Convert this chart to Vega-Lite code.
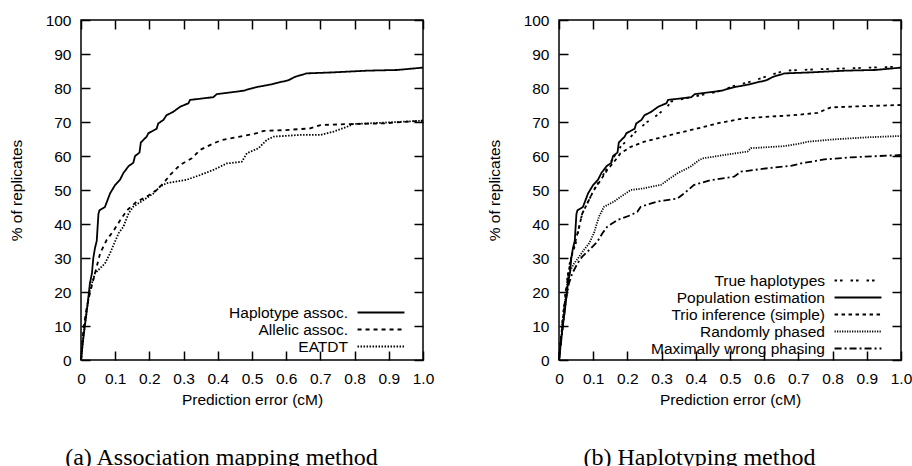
{
  "$schema": "https://vega.github.io/schema/vega-lite/v6.json",
  "padding": {"left": 8, "top": 12, "right": 0, "bottom": 0},
  "background": "white",
  "datasets": {
    "a": [
      {"s":"Haplotype assoc.","x":0,"y":0},{"s":"Haplotype assoc.","x":0.005,"y":5},{"s":"Haplotype assoc.","x":0.01,"y":9},{"s":"Haplotype assoc.","x":0.015,"y":13},{"s":"Haplotype assoc.","x":0.02,"y":17},{"s":"Haplotype assoc.","x":0.026,"y":22.5},{"s":"Haplotype assoc.","x":0.032,"y":25.5},{"s":"Haplotype assoc.","x":0.036,"y":30},{"s":"Haplotype assoc.","x":0.041,"y":33},{"s":"Haplotype assoc.","x":0.046,"y":35},{"s":"Haplotype assoc.","x":0.051,"y":43},{"s":"Haplotype assoc.","x":0.054,"y":44},{"s":"Haplotype assoc.","x":0.07,"y":45},{"s":"Haplotype assoc.","x":0.085,"y":49},{"s":"Haplotype assoc.","x":0.1,"y":51.5},{"s":"Haplotype assoc.","x":0.114,"y":53},{"s":"Haplotype assoc.","x":0.124,"y":55},{"s":"Haplotype assoc.","x":0.139,"y":57},{"s":"Haplotype assoc.","x":0.153,"y":58},{"s":"Haplotype assoc.","x":0.158,"y":60},{"s":"Haplotype assoc.","x":0.171,"y":61},{"s":"Haplotype assoc.","x":0.175,"y":64},{"s":"Haplotype assoc.","x":0.192,"y":65.7},{"s":"Haplotype assoc.","x":0.197,"y":66.7},{"s":"Haplotype assoc.","x":0.221,"y":68},{"s":"Haplotype assoc.","x":0.226,"y":69.6},{"s":"Haplotype assoc.","x":0.241,"y":70.6},{"s":"Haplotype assoc.","x":0.25,"y":72},{"s":"Haplotype assoc.","x":0.27,"y":73},{"s":"Haplotype assoc.","x":0.29,"y":74.5},{"s":"Haplotype assoc.","x":0.314,"y":75.5},{"s":"Haplotype assoc.","x":0.319,"y":76.5},{"s":"Haplotype assoc.","x":0.387,"y":77.3},{"s":"Haplotype assoc.","x":0.397,"y":78.2},{"s":"Haplotype assoc.","x":0.475,"y":79.2},{"s":"Haplotype assoc.","x":0.51,"y":80.2},{"s":"Haplotype assoc.","x":0.553,"y":81},{"s":"Haplotype assoc.","x":0.607,"y":82.3},{"s":"Haplotype assoc.","x":0.626,"y":83.3},{"s":"Haplotype assoc.","x":0.66,"y":84.3},{"s":"Haplotype assoc.","x":0.739,"y":84.6},{"s":"Haplotype assoc.","x":0.836,"y":85.1},{"s":"Haplotype assoc.","x":0.924,"y":85.3},{"s":"Haplotype assoc.","x":1.0,"y":86},
      {"s":"Allelic assoc.","x":0,"y":0},{"s":"Allelic assoc.","x":0.007,"y":9},{"s":"Allelic assoc.","x":0.017,"y":15.7},{"s":"Allelic assoc.","x":0.026,"y":19.6},{"s":"Allelic assoc.","x":0.041,"y":25.5},{"s":"Allelic assoc.","x":0.056,"y":31.4},{"s":"Allelic assoc.","x":0.075,"y":35.3},{"s":"Allelic assoc.","x":0.095,"y":38},{"s":"Allelic assoc.","x":0.114,"y":41},{"s":"Allelic assoc.","x":0.134,"y":44},{"s":"Allelic assoc.","x":0.163,"y":46.6},{"s":"Allelic assoc.","x":0.192,"y":48},{"s":"Allelic assoc.","x":0.221,"y":50},{"s":"Allelic assoc.","x":0.241,"y":52},{"s":"Allelic assoc.","x":0.26,"y":54.4},{"s":"Allelic assoc.","x":0.29,"y":57.4},{"s":"Allelic assoc.","x":0.324,"y":59.3},{"s":"Allelic assoc.","x":0.348,"y":61.8},{"s":"Allelic assoc.","x":0.387,"y":63.7},{"s":"Allelic assoc.","x":0.412,"y":64.7},{"s":"Allelic assoc.","x":0.465,"y":65.7},{"s":"Allelic assoc.","x":0.514,"y":66.7},{"s":"Allelic assoc.","x":0.534,"y":67.4},{"s":"Allelic assoc.","x":0.592,"y":67.6},{"s":"Allelic assoc.","x":0.67,"y":68.1},{"s":"Allelic assoc.","x":0.7,"y":69.1},{"s":"Allelic assoc.","x":0.787,"y":69.4},{"s":"Allelic assoc.","x":0.885,"y":69.6},{"s":"Allelic assoc.","x":1.0,"y":70.4},
      {"s":"EATDT","x":0,"y":0},{"s":"EATDT","x":0.007,"y":6.9},{"s":"EATDT","x":0.017,"y":14.7},{"s":"EATDT","x":0.026,"y":20.6},{"s":"EATDT","x":0.041,"y":25.5},{"s":"EATDT","x":0.056,"y":27},{"s":"EATDT","x":0.07,"y":28.4},{"s":"EATDT","x":0.085,"y":31.4},{"s":"EATDT","x":0.095,"y":33.8},{"s":"EATDT","x":0.11,"y":37.3},{"s":"EATDT","x":0.124,"y":39.2},{"s":"EATDT","x":0.139,"y":43.1},{"s":"EATDT","x":0.153,"y":45.1},{"s":"EATDT","x":0.182,"y":47},{"s":"EATDT","x":0.212,"y":49},{"s":"EATDT","x":0.231,"y":51},{"s":"EATDT","x":0.25,"y":52},{"s":"EATDT","x":0.309,"y":53},{"s":"EATDT","x":0.348,"y":54.4},{"s":"EATDT","x":0.387,"y":55.9},{"s":"EATDT","x":0.426,"y":57.8},{"s":"EATDT","x":0.47,"y":58.3},{"s":"EATDT","x":0.485,"y":60.8},{"s":"EATDT","x":0.519,"y":62.3},{"s":"EATDT","x":0.543,"y":64.7},{"s":"EATDT","x":0.563,"y":65.7},{"s":"EATDT","x":0.641,"y":66.2},{"s":"EATDT","x":0.7,"y":66.2},{"s":"EATDT","x":0.739,"y":67.2},{"s":"EATDT","x":0.778,"y":68.6},{"s":"EATDT","x":0.797,"y":69.4},{"s":"EATDT","x":0.885,"y":69.8},{"s":"EATDT","x":1.0,"y":70.4}
    ],
    "b": [
      {"s":"True haplotypes","x":0,"y":0},{"s":"True haplotypes","x":0.01,"y":11.8},{"s":"True haplotypes","x":0.02,"y":20.6},{"s":"True haplotypes","x":0.029,"y":27.5},{"s":"True haplotypes","x":0.039,"y":31.4},{"s":"True haplotypes","x":0.049,"y":34.3},{"s":"True haplotypes","x":0.059,"y":39.2},{"s":"True haplotypes","x":0.068,"y":43.1},{"s":"True haplotypes","x":0.083,"y":46.1},{"s":"True haplotypes","x":0.102,"y":50},{"s":"True haplotypes","x":0.117,"y":52.5},{"s":"True haplotypes","x":0.132,"y":54.9},{"s":"True haplotypes","x":0.146,"y":57.4},{"s":"True haplotypes","x":0.161,"y":59.8},{"s":"True haplotypes","x":0.18,"y":62.7},{"s":"True haplotypes","x":0.2,"y":64.7},{"s":"True haplotypes","x":0.229,"y":67.6},{"s":"True haplotypes","x":0.259,"y":70.1},{"s":"True haplotypes","x":0.288,"y":72.1},{"s":"True haplotypes","x":0.317,"y":74.5},{"s":"True haplotypes","x":0.327,"y":76},{"s":"True haplotypes","x":0.395,"y":77.5},{"s":"True haplotypes","x":0.463,"y":78.9},{"s":"True haplotypes","x":0.512,"y":80.6},{"s":"True haplotypes","x":0.561,"y":81.9},{"s":"True haplotypes","x":0.61,"y":83.5},{"s":"True haplotypes","x":0.659,"y":85.1},{"s":"True haplotypes","x":0.756,"y":85.5},{"s":"True haplotypes","x":0.854,"y":85.8},{"s":"True haplotypes","x":1.0,"y":86.3},
      {"s":"Population estimation","x":0,"y":0},{"s":"Population estimation","x":0.005,"y":5},{"s":"Population estimation","x":0.01,"y":9},{"s":"Population estimation","x":0.015,"y":13},{"s":"Population estimation","x":0.02,"y":17},{"s":"Population estimation","x":0.026,"y":22.5},{"s":"Population estimation","x":0.032,"y":25.5},{"s":"Population estimation","x":0.036,"y":30},{"s":"Population estimation","x":0.041,"y":33},{"s":"Population estimation","x":0.046,"y":35},{"s":"Population estimation","x":0.051,"y":43},{"s":"Population estimation","x":0.054,"y":44},{"s":"Population estimation","x":0.07,"y":45},{"s":"Population estimation","x":0.085,"y":49},{"s":"Population estimation","x":0.1,"y":51.5},{"s":"Population estimation","x":0.114,"y":53},{"s":"Population estimation","x":0.124,"y":55},{"s":"Population estimation","x":0.139,"y":57},{"s":"Population estimation","x":0.153,"y":58},{"s":"Population estimation","x":0.158,"y":60},{"s":"Population estimation","x":0.171,"y":61},{"s":"Population estimation","x":0.175,"y":64},{"s":"Population estimation","x":0.192,"y":65.7},{"s":"Population estimation","x":0.197,"y":66.7},{"s":"Population estimation","x":0.221,"y":68},{"s":"Population estimation","x":0.226,"y":69.6},{"s":"Population estimation","x":0.241,"y":70.6},{"s":"Population estimation","x":0.25,"y":72},{"s":"Population estimation","x":0.27,"y":73},{"s":"Population estimation","x":0.29,"y":74.5},{"s":"Population estimation","x":0.314,"y":75.5},{"s":"Population estimation","x":0.319,"y":76.5},{"s":"Population estimation","x":0.387,"y":77.3},{"s":"Population estimation","x":0.397,"y":78.2},{"s":"Population estimation","x":0.475,"y":79.2},{"s":"Population estimation","x":0.51,"y":80.2},{"s":"Population estimation","x":0.553,"y":81},{"s":"Population estimation","x":0.607,"y":82.3},{"s":"Population estimation","x":0.626,"y":83.3},{"s":"Population estimation","x":0.66,"y":84.3},{"s":"Population estimation","x":0.739,"y":84.6},{"s":"Population estimation","x":0.836,"y":85.1},{"s":"Population estimation","x":0.924,"y":85.3},{"s":"Population estimation","x":1.0,"y":86},
      {"s":"Trio inference (simple)","x":0,"y":0},{"s":"Trio inference (simple)","x":0.01,"y":10.8},{"s":"Trio inference (simple)","x":0.02,"y":19.6},{"s":"Trio inference (simple)","x":0.029,"y":26.5},{"s":"Trio inference (simple)","x":0.039,"y":31.4},{"s":"Trio inference (simple)","x":0.049,"y":35.3},{"s":"Trio inference (simple)","x":0.059,"y":39.2},{"s":"Trio inference (simple)","x":0.068,"y":43.1},{"s":"Trio inference (simple)","x":0.083,"y":46.1},{"s":"Trio inference (simple)","x":0.102,"y":50},{"s":"Trio inference (simple)","x":0.122,"y":52.9},{"s":"Trio inference (simple)","x":0.141,"y":55.9},{"s":"Trio inference (simple)","x":0.161,"y":58.3},{"s":"Trio inference (simple)","x":0.18,"y":60.8},{"s":"Trio inference (simple)","x":0.21,"y":62.7},{"s":"Trio inference (simple)","x":0.249,"y":64.2},{"s":"Trio inference (simple)","x":0.288,"y":65.2},{"s":"Trio inference (simple)","x":0.346,"y":66.7},{"s":"Trio inference (simple)","x":0.405,"y":68.1},{"s":"Trio inference (simple)","x":0.463,"y":69.6},{"s":"Trio inference (simple)","x":0.541,"y":71.1},{"s":"Trio inference (simple)","x":0.62,"y":71.6},{"s":"Trio inference (simple)","x":0.698,"y":72.1},{"s":"Trio inference (simple)","x":0.756,"y":72.7},{"s":"Trio inference (simple)","x":0.795,"y":74.3},{"s":"Trio inference (simple)","x":0.902,"y":74.7},{"s":"Trio inference (simple)","x":1.0,"y":75},
      {"s":"Randomly phased","x":0,"y":0},{"s":"Randomly phased","x":0.01,"y":9.8},{"s":"Randomly phased","x":0.02,"y":19.6},{"s":"Randomly phased","x":0.029,"y":25.5},{"s":"Randomly phased","x":0.044,"y":28.4},{"s":"Randomly phased","x":0.059,"y":30.4},{"s":"Randomly phased","x":0.073,"y":32.4},{"s":"Randomly phased","x":0.088,"y":34.3},{"s":"Randomly phased","x":0.102,"y":37.3},{"s":"Randomly phased","x":0.117,"y":42.2},{"s":"Randomly phased","x":0.132,"y":45.1},{"s":"Randomly phased","x":0.161,"y":46.6},{"s":"Randomly phased","x":0.18,"y":48},{"s":"Randomly phased","x":0.21,"y":50},{"s":"Randomly phased","x":0.249,"y":50.5},{"s":"Randomly phased","x":0.298,"y":51.5},{"s":"Randomly phased","x":0.317,"y":52.9},{"s":"Randomly phased","x":0.346,"y":54.9},{"s":"Randomly phased","x":0.385,"y":56.9},{"s":"Randomly phased","x":0.41,"y":58.8},{"s":"Randomly phased","x":0.42,"y":59.3},{"s":"Randomly phased","x":0.483,"y":60.3},{"s":"Randomly phased","x":0.551,"y":61.3},{"s":"Randomly phased","x":0.561,"y":62.3},{"s":"Randomly phased","x":0.659,"y":62.9},{"s":"Randomly phased","x":0.707,"y":63.7},{"s":"Randomly phased","x":0.727,"y":64.2},{"s":"Randomly phased","x":0.805,"y":64.9},{"s":"Randomly phased","x":0.902,"y":65.5},{"s":"Randomly phased","x":1.0,"y":65.9},
      {"s":"Maximally wrong phasing","x":0,"y":0},{"s":"Maximally wrong phasing","x":0.01,"y":8.8},{"s":"Maximally wrong phasing","x":0.02,"y":17.6},{"s":"Maximally wrong phasing","x":0.029,"y":22.5},{"s":"Maximally wrong phasing","x":0.039,"y":25.5},{"s":"Maximally wrong phasing","x":0.054,"y":28.4},{"s":"Maximally wrong phasing","x":0.068,"y":30.4},{"s":"Maximally wrong phasing","x":0.093,"y":32.8},{"s":"Maximally wrong phasing","x":0.112,"y":34.8},{"s":"Maximally wrong phasing","x":0.127,"y":37.3},{"s":"Maximally wrong phasing","x":0.141,"y":39.2},{"s":"Maximally wrong phasing","x":0.171,"y":41.2},{"s":"Maximally wrong phasing","x":0.21,"y":42.6},{"s":"Maximally wrong phasing","x":0.229,"y":43.6},{"s":"Maximally wrong phasing","x":0.239,"y":45.1},{"s":"Maximally wrong phasing","x":0.288,"y":46.6},{"s":"Maximally wrong phasing","x":0.346,"y":47.5},{"s":"Maximally wrong phasing","x":0.366,"y":49},{"s":"Maximally wrong phasing","x":0.395,"y":51.5},{"s":"Maximally wrong phasing","x":0.444,"y":52.9},{"s":"Maximally wrong phasing","x":0.512,"y":53.9},{"s":"Maximally wrong phasing","x":0.532,"y":55.4},{"s":"Maximally wrong phasing","x":0.61,"y":56.4},{"s":"Maximally wrong phasing","x":0.678,"y":57.1},{"s":"Maximally wrong phasing","x":0.707,"y":57.8},{"s":"Maximally wrong phasing","x":0.776,"y":59},{"s":"Maximally wrong phasing","x":0.854,"y":59.6},{"s":"Maximally wrong phasing","x":1.0,"y":60.3}
    ]
  },
  "hconcat": [
    {
      "width": 342, "height": 340,
      "title": {"text": "(a) Association mapping method", "orient": "bottom", "anchor": "middle", "frame": "bounds", "font": "Liberation Serif", "fontSize": 24, "fontWeight": "normal", "color": "black", "offset": 38},
      "data": {"name": "a"},
      "layer": [
        {
          "mark": {"type": "line", "color": "black", "strokeWidth": 1.8},
          "encoding": {
            "x": {"field": "x", "type": "quantitative", "scale": {"domain": [0, 1], "nice": false, "zero": false},
                  "axis": {"orient": "bottom", "values": [0,0.1,0.2,0.3,0.4,0.5,0.6,0.7,0.8,0.9,1.0], "labelExpr": "datum.value == 0 ? '0' : format(datum.value, '.1f')", "labelFlush": false, "labelOverlap": false, "title": "Prediction error (cM)", "titlePadding": 6, "labelPadding": 20}},
            "y": {"field": "y", "type": "quantitative", "scale": {"domain": [0, 100], "nice": false},
                  "axis": {"orient": "left", "values": [0,10,20,30,40,50,60,70,80,90,100], "labelOverlap": false, "title": "% of replicates", "titlePadding": 21, "labelPadding": 19}},
            "strokeDash": {"field": "s", "type": "nominal",
              "scale": {"domain": ["Haplotype assoc.", "Allelic assoc.", "EATDT"], "range": [[1, 0], [4, 4], [1.5, 1.5]]},
              "legend": {"orient": "none", "legendX": 276, "legendY": 284, "title": null, "symbolType": "M-3.3,0H3.3", "symbolSize": 202, "symbolOffset": 15.5, "symbolStrokeWidth": 1.8, "symbolStrokeColor": "black", "symbolFillColor": "transparent", "labelAlign": "right", "labelOffset": -41.5, "labelFontSize": 15.5, "labelFont": "Liberation Sans", "labelColor": "black", "rowPadding": -0.7, "padding": 0, "labelLimit": 400}}
          }
        },
        {
          "mark": {"type": "point", "opacity": 0},
          "encoding": {
            "x": {"field": "x", "type": "quantitative", "axis": {"orient": "top", "values": [0,0.1,0.2,0.3,0.4,0.5,0.6,0.7,0.8,0.9,1.0], "labels": false, "title": null}},
            "y": {"field": "y", "type": "quantitative", "axis": {"orient": "right", "values": [0,10,20,30,40,50,60,70,80,90,100], "labels": false, "title": null}}
          }
        }
      ]
    },
    {
      "width": 342, "height": 340,
      "title": {"text": "(b) Haplotyping method", "orient": "bottom", "anchor": "middle", "frame": "bounds", "font": "Liberation Serif", "fontSize": 24, "fontWeight": "normal", "color": "black", "offset": 38},
      "data": {"name": "b"},
      "layer": [
        {
          "mark": {"type": "line", "color": "black", "strokeWidth": 1.8},
          "encoding": {
            "x": {"field": "x", "type": "quantitative", "scale": {"domain": [0, 1], "nice": false, "zero": false},
                  "axis": {"orient": "bottom", "values": [0,0.1,0.2,0.3,0.4,0.5,0.6,0.7,0.8,0.9,1.0], "labelExpr": "datum.value == 0 ? '0' : format(datum.value, '.1f')", "labelFlush": false, "labelOverlap": false, "title": "Prediction error (cM)", "titlePadding": 6, "labelPadding": 20}},
            "y": {"field": "y", "type": "quantitative", "scale": {"domain": [0, 100], "nice": false},
                  "axis": {"orient": "left", "values": [0,10,20,30,40,50,60,70,80,90,100], "labelOverlap": false, "title": "% of replicates", "titlePadding": 21, "labelPadding": 19}},
            "strokeDash": {"field": "s", "type": "nominal",
              "scale": {"domain": ["True haplotypes", "Population estimation", "Trio inference (simple)", "Randomly phased", "Maximally wrong phasing"], "range": [[2.5, 3, 2.5, 8], [1, 0], [3.5, 3.5], [1.2, 1.3], [7, 3, 2, 3]]},
              "legend": {"orient": "none", "legendX": 275, "legendY": 252, "title": null, "symbolType": "M-3.3,0H3.3", "symbolSize": 202, "symbolOffset": 15.5, "symbolStrokeWidth": 1.8, "symbolStrokeColor": "black", "symbolFillColor": "transparent", "labelAlign": "right", "labelOffset": -41.5, "labelFontSize": 15.5, "labelFont": "Liberation Sans", "labelColor": "black", "rowPadding": -0.7, "padding": 0, "labelLimit": 400}}
          }
        },
        {
          "mark": {"type": "point", "opacity": 0},
          "encoding": {
            "x": {"field": "x", "type": "quantitative", "axis": {"orient": "top", "values": [0,0.1,0.2,0.3,0.4,0.5,0.6,0.7,0.8,0.9,1.0], "labels": false, "title": null}},
            "y": {"field": "y", "type": "quantitative", "axis": {"orient": "right", "values": [0,10,20,30,40,50,60,70,80,90,100], "labels": false, "title": null}}
          }
        }
      ]
    }
  ],
  "spacing": 51,
  "resolve": {"scale": {"x": "independent", "y": "independent", "strokeDash": "independent"}, "legend": {"strokeDash": "independent"}},
  "config": {
    "font": "Liberation Sans",
    "view": {"stroke": "black", "strokeWidth": 1.5},
    "axis": {"domain": false, "grid": false, "ticks": true, "tickSize": -9, "tickColor": "black", "tickWidth": 1.5,
             "labelFont": "Liberation Sans", "labelFontSize": 15.5, "labelColor": "black",
             "titleFont": "Liberation Sans", "titleFontSize": 15.5, "titleFontWeight": "normal", "titleColor": "black"}
  }
}
